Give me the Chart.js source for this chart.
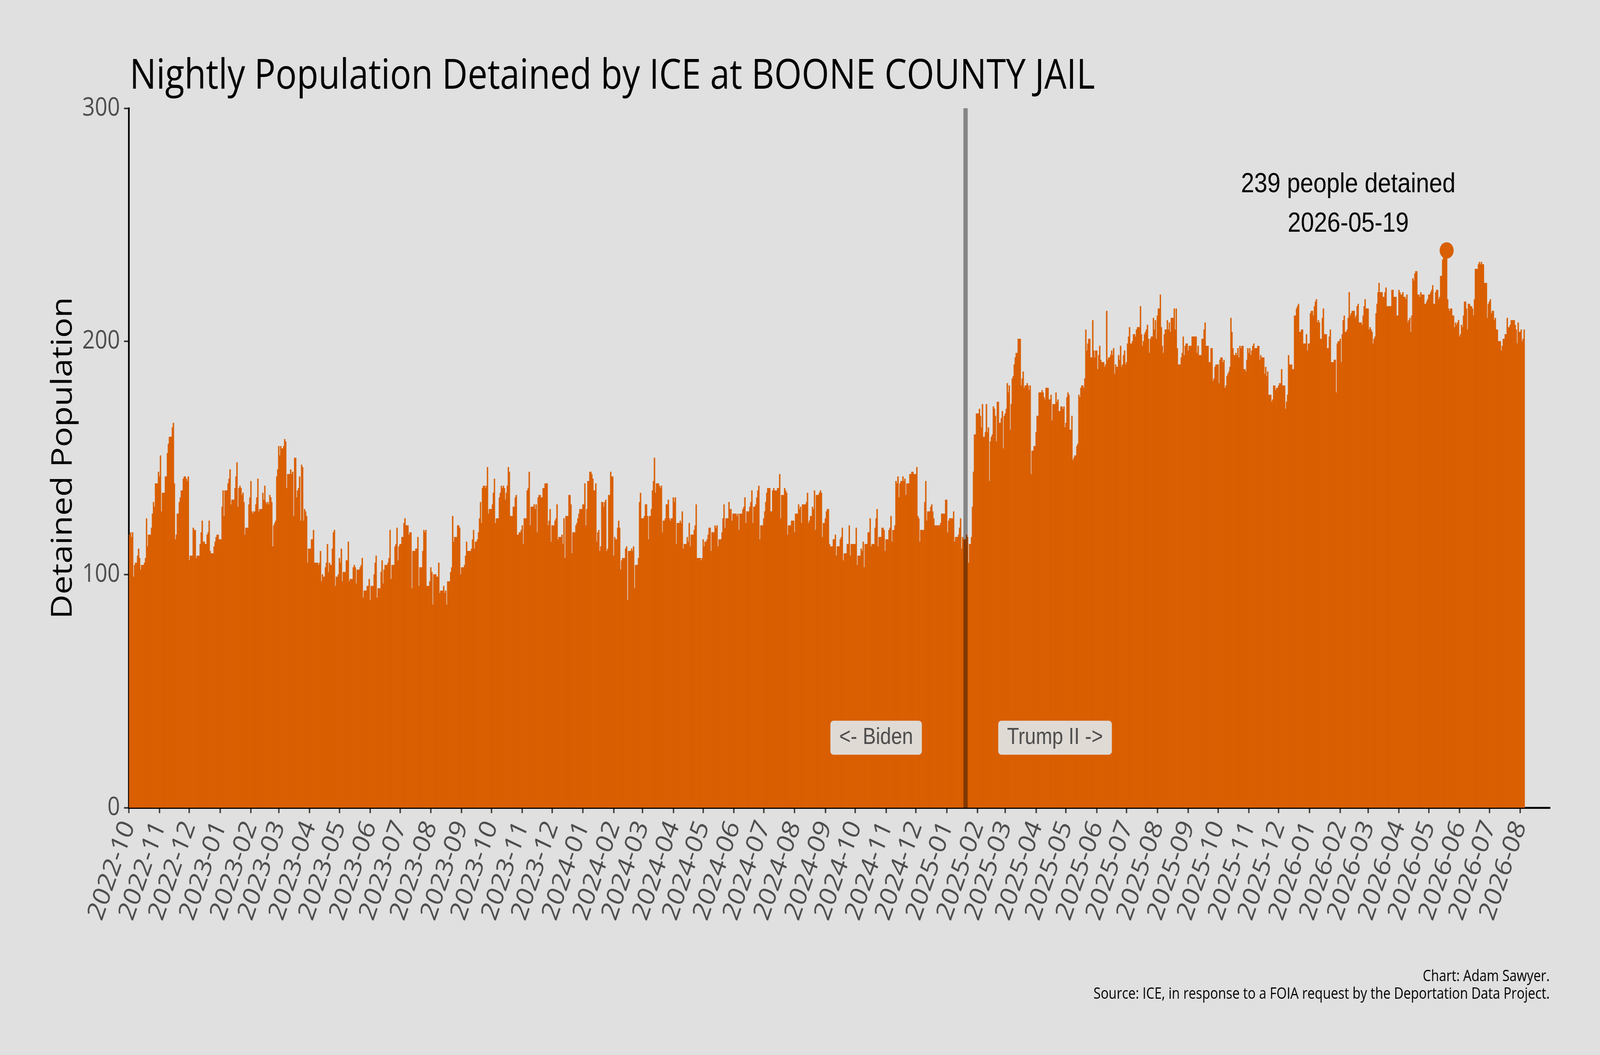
<!DOCTYPE html>
<html>
<head>
<meta charset="utf-8">
<title>Nightly Population Detained by ICE at BOONE COUNTY JAIL</title>
<script src="https://cdn.jsdelivr.net/npm/chart.js@4.4.1/dist/chart.umd.min.js"></script>
<style>
  html, body { margin: 0; padding: 0; background: #e0e0e0; overflow: hidden; }
  #chart { display: block; width: 100vw; height: 100vh; }
</style>
</head>
<body>
<canvas id="chart" width="4800" height="2700" style="width:100vw;height:100vh"></canvas>
<script>
// nightly counts, first night 2022-10-02
const FIRST_NIGHT = '2022-10-02';
const AXIS_START = '2022-10-01';
const AXIS_END = '2026-08-31';
const SPLIT_DATE = '2025-01-20';

const values2022 = [
  117,118,116,118,99,104,105,105,108,111,
  107,102,104,104,104,105,107,124,112,117,
  117,117,120,126,131,129,139,139,139,144,
  142,151,127,135,135,135,142,142,152,156,
  159,159,159,163,165,139,115,117,126,126,
  131,133,136,136,141,142,142,141,140,142,
  106,108,108,108,120,119,119,107,108,108,
  108,113,118,123,114,114,113,113,117,118,
  123,110,109,109,109,112,114,116,117,117,
  115
];

const values2023 = [
  115,115,129,136,125,136,136,136,139,
  141,145,130,132,132,132,137,142,148,129,
  137,138,137,134,135,131,117,120,120,120,
  130,133,140,127,126,127,127,130,133,141,
  127,128,128,128,135,132,138,131,130,131,
  130,134,133,131,112,121,122,123,142,145,
  155,151,155,154,154,155,158,157,137,143,
  143,143,145,143,144,125,150,150,133,136,
  137,142,123,147,146,123,128,127,125,105,
  111,111,111,115,115,119,105,105,105,105,
  104,105,110,97,100,99,99,103,105,113,
  101,105,104,104,111,118,119,95,99,99,
  100,107,105,111,97,101,101,101,106,106,
  114,97,98,98,98,103,104,103,96,102,
  102,102,103,104,107,90,93,93,93,95,
  95,98,89,95,95,95,100,105,108,90,
  94,94,94,101,106,96,102,104,104,104,
  105,107,119,98,104,104,104,112,113,120,
  106,112,113,113,116,116,122,124,121,121,
  121,117,118,118,94,110,110,110,111,111,
  116,95,103,103,103,110,119,118,119,95,
  95,95,97,103,101,87,100,100,100,99,
  99,105,92,93,93,93,95,92,93,87,
  97,97,97,101,103,125,114,116,116,116,
  121,121,120,100,103,103,103,104,108,114,
  110,110,110,110,111,115,119,111,114,114,
  115,118,124,131,122,137,138,138,137,138,
  146,126,128,128,128,130,135,141,122,124,
  124,124,133,135,138,137,138,137,132,135,
  138,146,144,125,125,125,129,129,133,134,
  117,117,118,118,119,121,113,124,124,124,
  136,137,144,121,129,129,129,130,128,130,
  118,133,134,134,133,133,137,137,139,139,
  139,121,123,128,114,121,121,121,123,124,
  130,115,116,116,116,117,113,124,107,125,
  125,125,134,134,130,109,118,118,118,121,
  122,124,126,128,128,128
];

const values2024 = [
  130,130,139,121,
  128,140,140,144,144,143,141,136,136,139,
  114,118,119,110,112,131,131,129,131,132,
  110,111,134,134,144,142,142,108,116,115,
  115,120,123,120,102,106,107,107,107,111,
  112,89,110,110,110,111,110,112,94,104,
  104,104,107,131,135,124,124,124,125,130,
  130,125,115,125,125,128,136,140,150,135,
  139,139,139,138,137,138,118,123,123,124,
  130,130,132,124,123,124,124,133,131,133,
  113,122,122,122,123,122,127,111,113,113,
  113,116,114,122,112,117,117,117,119,121,
  130,107,107,107,107,106,107,115,112,114,
  114,115,117,120,120,110,118,118,118,121,
  120,121,112,115,115,115,118,124,130,120,
  124,124,124,131,128,128,123,126,126,126,
  126,125,126,119,126,126,126,128,129,133,
  122,127,127,127,129,131,136,122,129,
  129,130,133,136,138,115,121,121,121,124,
  127,131,135,137,137,137,127,127,136,137,
  136,136,136,137,137,143,124,134,134,134,
  137,136,135,117,121,121,121,123,123,123,
  118,126,126,126,130,128,129,122,130,130,
  130,130,131,135,122,123,125,125,129,128,
  136,119,134,134,134,135,136,135,116,122,
  122,124,127,128,128,113,112,112,112,115,
  115,117,108,112,112,112,115,116,120,106,
  109,109,109,113,113,121,108,113,113,113,
  113,113,120,104,108,108,108,111,110,114,
  103,113,113,113,118,118,124,112,113,113,
  113,120,124,128,112,116,116,116,120,120,
  119,110,115,115,115,119,120,125,114,119,
  119,121,140,139,142,133,139,140,140,142,
  140,141,134,139,139,139,143,143,144,144,
  143,143,143,146,125,124,114,119,119,119,
  119,131,140,123,127,127,127,129,130,127,
  124,121,121,121,121,121,121,122,126,126,
  126,126,132
];

const values2025 = [
  132,118,123,124,124,124,124,127,114,116,
  116,116,117,120,124,111,116,115,115,115,
  117,116,
  105,113,113,116,129,144,160,160,169,169,
  169,171,168,163,173,159,159,161,173,161,
  163,140,157,159,160,172,171,168,157,174,
  174,165,165,167,170,154,168,169,171,182,
  178,181,162,173,184,185,190,193,195,195,
  201,201,201,181,184,187,180,181,181,182,
  181,179,181,143,153,153,155,155,161,168,
  168,178,178,178,179,178,176,175,180,180,
  180,175,175,177,166,173,173,173,178,174,
  175,170,170,172,172,171,172,163,165,176,
  178,177,162,162,168,149,150,151,151,155,
  156,177,176,180,181,181,180,184,205,196,
  199,201,201,193,193,209,196,193,196,196,
  188,194,198,192,191,191,191,189,190,213,
  192,193,193,194,196,194,197,186,190,189,
  189,194,192,198,189,190,194,196,190,191,
  199,202,206,199,199,200,203,203,202,205,
  206,206,206,215,203,198,200,203,204,205,
  207,201,195,201,202,202,
  210,205,209,201,211,214,214,220,206,198,
  195,203,205,205,209,205,208,204,210,210,
  210,214,205,214,197,190,190,190,193,195,
  202,194,198,199,199,196,198,198,198,202,
  202,202,202,202,195,198,194,194,194,201,
  201,205,208,198,198,198,191,191,197,197,
  183,184,189,190,190,190,182,192,193,193,
  191,192,180,181,185,186,187,189,210,204,
  197,194,194,195,194,197,193,198,197,198,
  198,188,188,187,192,197,195,197,194,196,
  198,199,197,197,197,198,198,192,194,193,
  193,193,186,189,185,187,177,177,177,174,
  175,181,181,179,180,180,181,182,182,188,
  181,181,181,171,174,177,194,190,190,190,
  188,188,211,211,214,215,216,204,204,205,
  205,199,199,199,203,196,199
];

const values2026 = [
  199,212,213,
  213,211,215,217,218,208,209,208,201,201,
  210,214,203,203,203,197,197,202,205,191,
  191,191,192,192,178,199,200,200,
  201,191,203,209,211,204,204,205,210,221,
  211,212,213,213,213,210,211,215,216,208,
  208,208,207,211,215,218,214,214,214,205,
  206,205,204,199,201,202,212,216,221,225,
  221,221,221,219,219,221,223,215,215,215,
  215,215,222,222,219,219,219,211,211,222,
  221,220,220,221,219,219,218,220,208,209,
  210,204,211,227,226,229,230,230,220,220,
  219,221,220,220,220,216,216,217,218,220,
  220,221,222,224,216,216,221,222,222,218,
  219,228,228,235,236,237,238,239,
  218,214,213,214,214,211,211,206,208,207,
  208,209,202,203,207,206,211,217,217,214,
  205,216,216,215,215,214,211,218,231,231,
  231,233,234,233,234,233,233,225,225,225,
  210,216,217,218,212,213,213,209,210,205,
  205,200,200,200,196,198,201,201,203,203,
  210,206,206,207,209,209,209,209,207,205,
  199,208,204,204,205,200,201,205
];

const tickLabels = [
  '2022-10','2022-11','2022-12',
  '2023-01','2023-02','2023-03','2023-04','2023-05','2023-06',
  '2023-07','2023-08','2023-09','2023-10','2023-11','2023-12',
  '2024-01','2024-02','2024-03','2024-04','2024-05','2024-06',
  '2024-07','2024-08','2024-09','2024-10','2024-11','2024-12',
  '2025-01','2025-02','2025-03','2025-04','2025-05','2025-06',
  '2025-07','2025-08','2025-09','2025-10','2025-11','2025-12',
  '2026-01','2026-02','2026-03','2026-04','2026-05','2026-06',
  '2026-07','2026-08'
];
const yTicks = [0, 100, 200, 300];

const TITLE = 'Nightly Population Detained by ICE at BOONE COUNTY JAIL';
const Y_TITLE = 'Detained Population';
const ERA_LABELS = ['<- Biden', 'Trump II ->'];
const CREDIT = 'Chart: Adam Sawyer.';
const SOURCE = 'Source: ICE, in response to a FOIA request by the Deportation Data Project.';

const BAR_COLOR = '#d95f02';
const BG = '#e0e0e0';
const SANS = '"Open Sans", "Noto Sans", sans-serif';
const ARIAL = '"Liberation Sans", Arial, sans-serif';

const DAY = 86400000;
const BASE = Date.UTC(2022, 9, 1);
function dayOffset(iso) {
    const [y, m, d] = iso.split('-').map(Number);
    return (Date.UTC(y, m - 1, d || 1) - BASE) / DAY;
}
function isoDate(off) {
    return new Date(BASE + off * DAY).toISOString().slice(0, 10);
}

const nightly = [].concat(values2022, values2023, values2024, values2025, values2026);
const firstOff = dayOffset(FIRST_NIGHT);
const points = nightly.map((v, i) => ({ x: firstOff + i, y: v }));

let peakIdx = 0;
nightly.forEach((v, i) => { if (v > nightly[peakIdx]) peakIdx = i; });

const tickOffsets = tickLabels.map(dayOffset);
const labelAt = {};
tickLabels.forEach((t, i) => { labelAt[tickOffsets[i]] = t; });

function fitSize(ctx, text, family, width) {
    ctx.font = '100px ' + family;
    return 100 * width / ctx.measureText(text).width;
}

function drawBox(ctx, text, cx, cy) {
    ctx.font = '59px ' + ARIAL;
    const w = ctx.measureText(text).width + 53;
    const h = 87;
    ctx.fillStyle = 'rgba(224,224,224,0.95)';
    ctx.beginPath();
    ctx.roundRect(cx - w / 2, cy - h / 2, w, h, 9);
    ctx.fill();
    ctx.fillStyle = '#4d4d4d';
    ctx.textAlign = 'center';
    ctx.textBaseline = 'alphabetic';
    ctx.fillText(text, cx, cy + 16);
}

const decor = {
    id: 'decor',
    beforeDraw(chart) {
        const ctx = chart.ctx;
        ctx.save();
        ctx.fillStyle = BG;
        ctx.fillRect(0, 0, chart.width, chart.height);
        ctx.restore();
    },
    afterDatasetsDraw(chart) {
        const { ctx, scales: { x, y } } = chart;
        ctx.save();

        // administration change
        const split = dayOffset(SPLIT_DATE);
        const lx = x.getPixelForValue(split);
        ctx.strokeStyle = 'rgba(0,0,0,0.4)';
        ctx.lineWidth = 13;
        ctx.beginPath();
        ctx.moveTo(lx, y.getPixelForValue(300));
        ctx.lineTo(lx, y.getPixelForValue(0));
        ctx.stroke();

        drawBox(ctx, ERA_LABELS[0], x.getPixelForValue(split - 90), y.getPixelForValue(30));
        drawBox(ctx, ERA_LABELS[1], x.getPixelForValue(split + 90), y.getPixelForValue(30));

        // peak night
        const px = x.getPixelForValue(points[peakIdx].x);
        const py = y.getPixelForValue(points[peakIdx].y);
        ctx.fillStyle = BAR_COLOR;
        ctx.beginPath();
        ctx.arc(px, py, 21, 0, Math.PI * 2);
        ctx.fill();

        const tx = x.getPixelForValue(points[peakIdx].x - 99);
        ctx.fillStyle = '#000';
        ctx.font = '71px ' + ARIAL;
        ctx.textAlign = 'center';
        ctx.textBaseline = 'alphabetic';
        ctx.fillText(nightly[peakIdx] + ' people detained', tx, y.getPixelForValue(264));
        ctx.fillText(isoDate(points[peakIdx].x), tx, y.getPixelForValue(247));
        ctx.restore();
    },
    afterDraw(chart) {
        const ctx = chart.ctx;
        ctx.save();
        ctx.fillStyle = '#000';
        ctx.textBaseline = 'alphabetic';

        ctx.textAlign = 'left';
        ctx.font = fitSize(ctx, TITLE, SANS, 2896) + 'px ' + SANS;
        ctx.fillText(TITLE, 389, 227);

        ctx.save();
        ctx.translate(190, 1172);
        ctx.rotate(-Math.PI / 2);
        ctx.textAlign = 'center';
        ctx.textBaseline = 'middle';
        ctx.font = fitSize(ctx, Y_TITLE, SANS, 824) + 'px ' + SANS;
        ctx.fillText(Y_TITLE, 0, 0);
        ctx.restore();

        const fs = fitSize(ctx, SOURCE, SANS, 1369);
        ctx.font = fs + 'px ' + SANS;
        ctx.textAlign = 'right';
        ctx.fillText(CREDIT, 4649, 2511);
        ctx.fillText(SOURCE, 4649, 2556);
        ctx.restore();
    }
};

function zeroPad(s) {
    s.paddingTop = 0; s.paddingBottom = 0; s.paddingLeft = 0; s.paddingRight = 0;
}

function draw() {
    new Chart(document.getElementById('chart'), {
        type: 'bar',
        data: {
            datasets: [{
                data: points,
                backgroundColor: BAR_COLOR,
                borderWidth: 0,
                barPercentage: 1,
                categoryPercentage: 1,
                inflateAmount: 0.6
            }]
        },
        options: {
            responsive: false,
            animation: false,
            devicePixelRatio: 1,
            layout: { padding: { top: 277, right: 150, left: 0, bottom: 0 } },
            plugins: { legend: { display: false }, tooltip: { enabled: false } },
            scales: {
                x: {
                    type: 'linear',
                    min: dayOffset(AXIS_START),
                    max: dayOffset(AXIS_END),
                    offset: false,
                    afterBuildTicks: s => { s.ticks = tickOffsets.map(v => ({ value: v })); },
                    afterFit: s => { s.height = 633; zeroPad(s); },
                    border: { display: true, color: '#000', width: 5 },
                    grid: { display: true, offset: false, drawOnChartArea: false, tickLength: 14, tickWidth: 4, tickColor: '#333' },
                    ticks: {
                        autoSkip: false,
                        minRotation: 68,
                        maxRotation: 68,
                        padding: 8,
                        color: '#4d4d4d',
                        font: { family: SANS, size: 71 },
                        callback: v => labelAt[v] || ''
                    }
                },
                y: {
                    min: 0,
                    max: 300,
                    afterBuildTicks: s => { s.ticks = yTicks.map(v => ({ value: v })); },
                    afterFit: s => { s.width = 386; zeroPad(s); },
                    border: { display: true, color: '#000', width: 5 },
                    grid: { display: true, drawOnChartArea: false, tickLength: 14, tickWidth: 4, tickColor: '#333' },
                    ticks: {
                        padding: 12,
                        color: '#4d4d4d',
                        font: { family: SANS, size: 66 }
                    }
                }
            }
        },
        plugins: [decor]
    });
}

Promise.all([
    document.fonts.load('66px "Open Sans"'),
    document.fonts.load('59px "Liberation Sans"')
]).then(draw, draw);
</script>
</body>
</html>
